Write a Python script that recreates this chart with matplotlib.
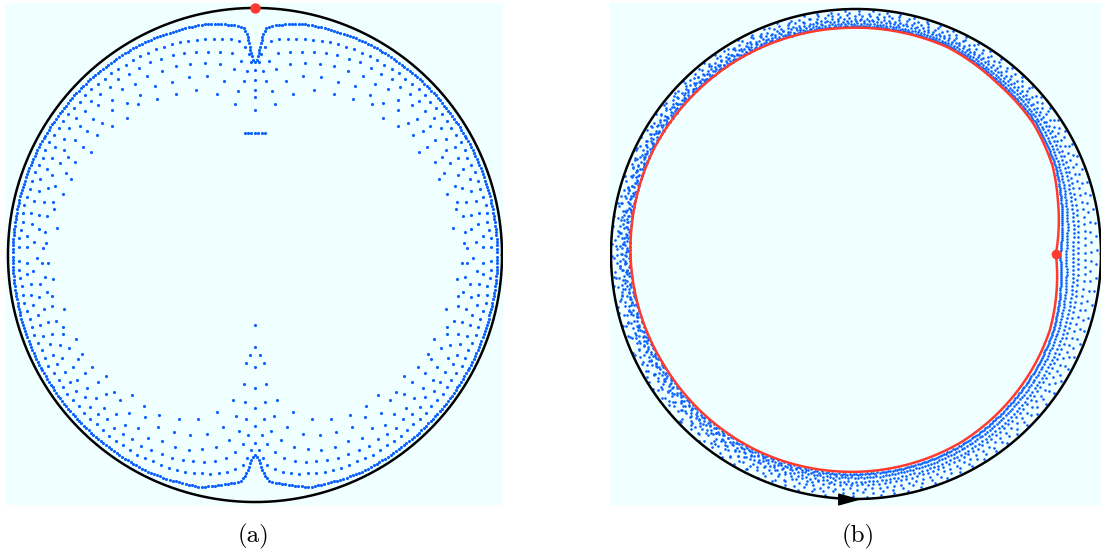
import numpy as np
import matplotlib.pyplot as plt
from matplotlib.path import Path

# couleurs
BLUE = '#0a5fff'
RED = '#ff3b30'
BG = '#f0ffff'

# ---------------- panneau (a) : rangées de points (angle depuis le pôle en degrés, profondeur en px) -----
R_A = 247.0

top_phi = [
    [0, 0.6, 1.1, 1.6, 2.1, 3, 6, 12, 26, 45, 90],
    [0, 1.0, 2.0, 3.2, 5, 8, 15, 26, 45, 90],
    [0, 1.6, 3.2, 4.8, 7, 12, 26, 45, 90],
    [0, 2.2, 4.4, 6.5, 9, 15, 26, 45, 90],
    [0, 3, 6, 9, 13, 20, 30, 50, 90],
    [0, 4, 8, 12, 17, 25, 35, 55, 90],
    [0, 2, 4, 6.5],
]
top_depth = [
    [54, 52, 45, 35, 25, 19, 15.6, 11, 7.7, 6, 4.7],
    [62, 56, 44, 35, 31, 28.6, 24, 18, 13, 10],
    [72, 68, 58, 48, 43, 39, 28, 21, 17],
    [82, 79, 70, 60, 54, 48, 40, 30, 24],
    [89, 88, 82, 72, 64, 57, 50, 38, 30],
    [102, 100, 94, 84, 75, 66, 57, 45, 35],
    [125, 125, 125, 125],
]
top_step = [3.3, 8.5, 12, 15, 18, 21, 3.5]
top_teeth = [0, 2, 4, 6, 8, 10, 0]

bottom_phi = [
    [0, 0.6, 1.2, 2.0, 2.8, 3.6, 5.5, 13.3, 26, 90],
    [0, 1.2, 2.4, 3.6, 6, 10, 18, 30, 90],
    [0, 2, 4, 6, 9, 14, 22, 35, 90],
    [0, 2.5, 5, 8, 12, 18, 28, 45, 90],
    [0, 3, 6, 10, 15, 22, 34, 55, 90],
    [0, 3.5, 7, 12, 18, 26, 40, 60, 90],
    [0, 2, 4, 6],
    [0, 0.5],
]
bottom_depth = [
    [47, 45, 40, 32, 25, 21, 18, 8.6, 5.5, 4.7],
    [59, 52, 42, 35, 30, 25, 19, 15, 10],
    [76, 68, 56, 47, 40, 34, 28, 23, 17],
    [94, 86, 72, 60, 50, 42, 36, 30, 24],
    [114, 104, 88, 73, 62, 53, 46, 38, 30],
    [135, 124, 106, 89, 75, 63, 53, 43, 35],
    [155, 150, 142, 133],
    [177, 177],
]
bottom_step = [3.3, 8.5, 11, 14, 17, 20, 9, 1.5]
bottom_teeth = [0, 2, 4, 6, 8, 10, 0, 0]
tooth_period = 8.0

# ---------------- panneau (b) -----------------
red_theta = [0, 15, 24, 36.5, 50.5, 66, 93, 120, 152, 181, 211, 244, 267, 299, 338.6, 360]
red_r = [0.816, 0.853, 0.879, 0.899, 0.905, 0.923, 0.924, 0.928, 0.93, 0.92, 0.905, 0.898,
         0.89, 0.88, 0.85, 0.816]
ring_frac = [0.09, 0.22, 0.37, 0.48, 0.64, 0.77, 0.9]
ring_count = [640, 450, 340, 260, 200, 150, 110]
arrow_angle = -91.9


def row_xy(phi_deg, depth_px, step_px, side, tooth):
    phi = np.radians(np.array(phi_deg, float))
    d = np.array(depth_px, float)
    phi_full = np.concatenate([-phi[::-1], phi[1:]])
    d_full = np.concatenate([d[::-1], d[1:]])
    t = np.linspace(phi_full[0], phi_full[-1], 20001)
    dd = np.interp(t, phi_full, d_full)
    if tooth:
        # dents en V sur les côtés
        a = np.abs(np.degrees(t))
        u = ((90 - a) / tooth_period) % 1.0
        tri = np.clip(1 - 2 * np.minimum(u, 1 - u), 0, 1)
        win = np.clip((a - 20) / 20, 0, 1)
        dd = dd + tooth * tri * win
    r = 1 - dd / R_A
    x = r * np.sin(t)
    y = side * r * np.cos(t)
    s = np.concatenate([[0], np.cumsum(np.hypot(np.diff(x), np.diff(y)))]) * R_A
    mid = s[len(s) // 2]
    k = np.arange(-int(mid / step_px), int((s[-1] - mid) / step_px) + 1)
    sk = mid + k * step_px
    return np.interp(sk, s, x), np.interp(sk, s, y)


fig = plt.figure(figsize=(11.01, 5.5), dpi=100)
ax_a = fig.add_axes([5 / 1101, 45 / 550, 498 / 1101, 502 / 550])
ax_b = fig.add_axes([610 / 1101, 45 / 550, 491 / 1101, 502 / 550])

for ax in (ax_a, ax_b):
    ax.set_facecolor(BG)
    ax.set_xticks([])
    ax.set_yticks([])
    for sp in ax.spines.values():
        sp.set_visible(False)

t = np.linspace(0, 2 * np.pi, 1441)

# (a)
for ph, dp, st, tt in zip(top_phi, top_depth, top_step, top_teeth):
    x, y = row_xy(ph, dp, st, 1, tt)
    ax_a.scatter(x, y, s=5, color=BLUE, linewidths=0, zorder=2)
for ph, dp, st, tt in zip(bottom_phi, bottom_depth, bottom_step, bottom_teeth):
    x, y = row_xy(ph, dp, st, -1, tt)
    ax_a.scatter(x, y, s=5, color=BLUE, linewidths=0, zorder=2)
ax_a.plot(np.cos(t), np.sin(t), color='k', lw=1.8, zorder=3)
ax_a.plot(0, 1, 'o', color=RED, ms=6.5, zorder=4)
ax_a.set_xlim(-1.012, 1.004)
ax_a.set_ylim(-1.012, 1.020)

# (b)
deg = np.degrees(t)
rr = np.interp(deg, red_theta, red_r)
for k, (f, n) in enumerate(zip(ring_frac, ring_count)):
    j = np.arange(n)
    th = 2 * np.pi * j / n + 0.3 * k / n
    rb = np.interp(np.degrees(th), red_theta, red_r)
    amp = 0.2 * ((1 - np.cos(th)) / 2) ** 3
    ff = np.clip(f + amp * np.sin(2 * np.pi * 0.618034 * j + k), 0.04, 0.97)
    r = rb + ff * (1 - rb)
    ax_b.scatter(r * np.cos(th), r * np.sin(th), s=3.5, color=BLUE, linewidths=0, zorder=2)
ax_b.plot(rr * np.cos(t), rr * np.sin(t), color=RED, lw=1.8, zorder=3)
ax_b.plot(red_r[0], 0, 'o', color=RED, ms=6, zorder=4)
ax_b.plot(np.cos(t), np.sin(t), color='k', lw=1.8, zorder=3)
head = Path([(-1, -0.55), (1, 0), (-1, 0.55), (-1, -0.55)],
            [Path.MOVETO, Path.LINETO, Path.LINETO, Path.CLOSEPOLY])
ax_b.plot(np.cos(np.radians(arrow_angle)), np.sin(np.radians(arrow_angle)),
          marker=head, ms=14, color='k', zorder=5)
ax_b.set_xlim(-1.004, 1.0)
ax_b.set_ylim(-1.0245, 1.0245)

fig.text(253 / 1101, 1 - 536 / 550, '(a)', ha='center', va='center', fontsize=18, family='cmr10')
fig.text(858 / 1101, 1 - 536 / 550, '(b)', ha='center', va='center', fontsize=18, family='cmr10')

fig.savefig('out.png', dpi=100)
